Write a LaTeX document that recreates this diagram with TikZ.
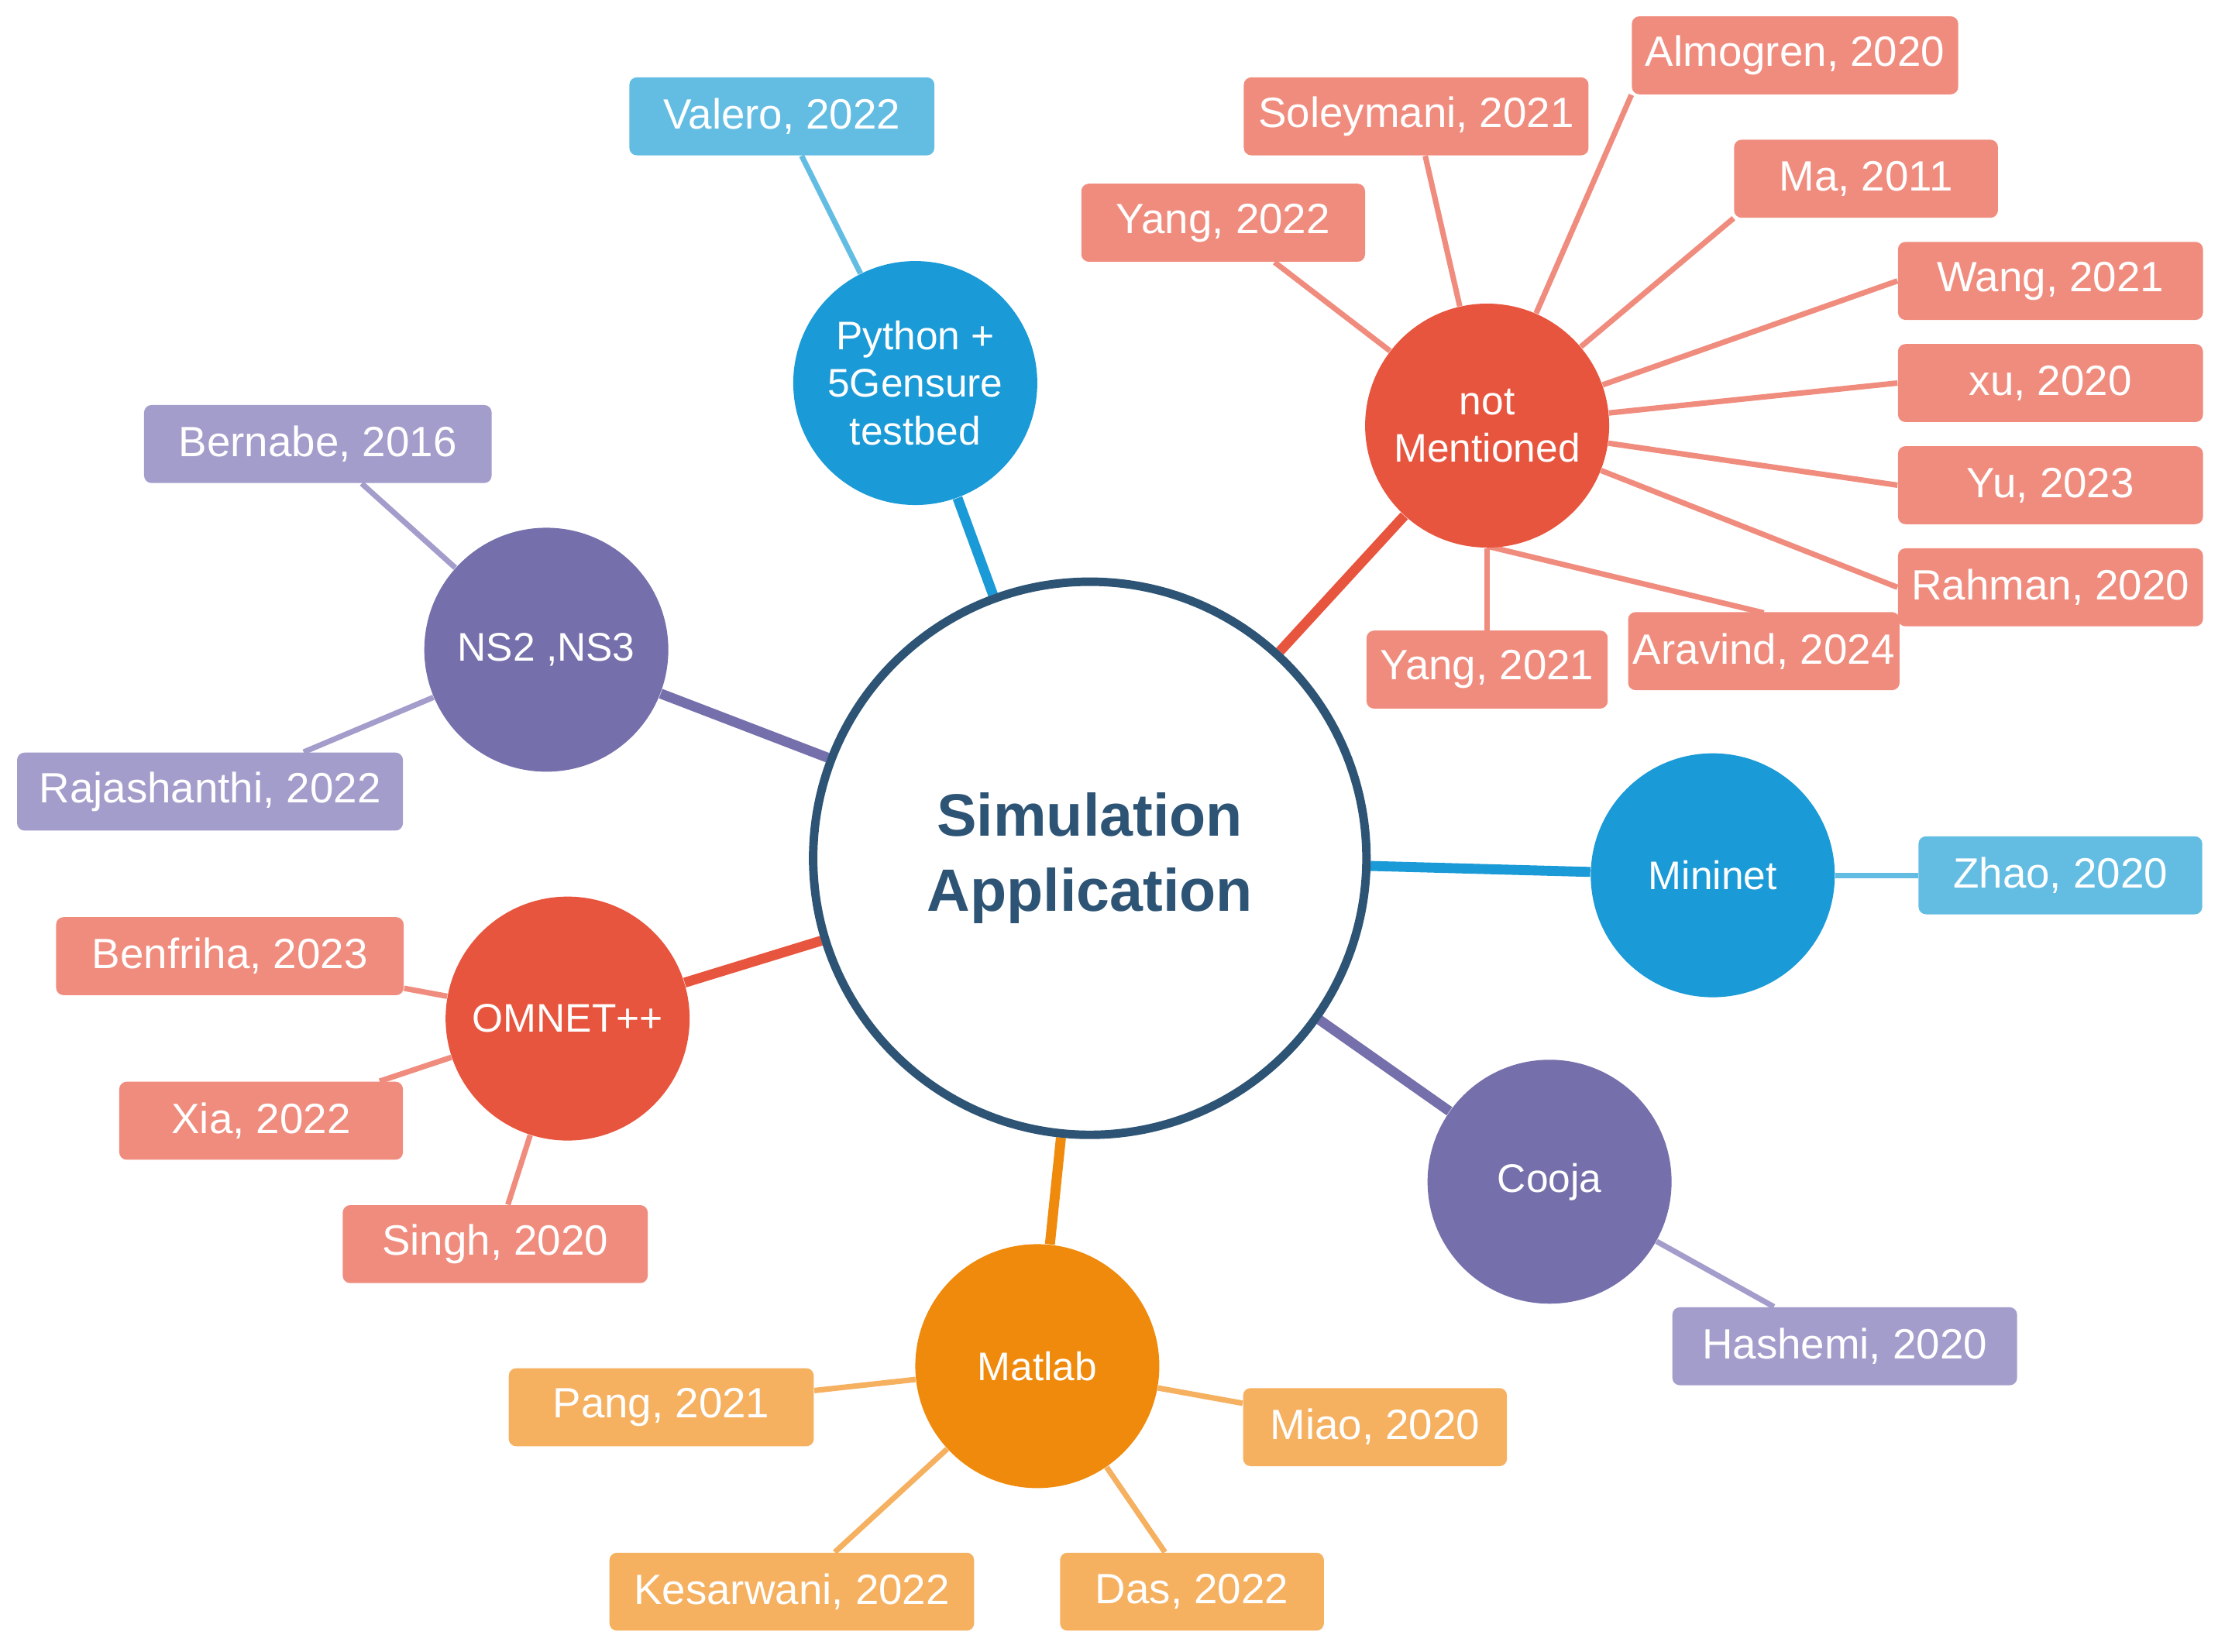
\documentclass[tikz,border=0pt]{standalone}
\usepackage{fontspec}
\setmainfont{Liberation Sans}
\usetikzlibrary{backgrounds}
\definecolor{navy}{HTML}{2E5475}
\definecolor{cblue}{HTML}{1A9AD6}
\definecolor{lblue}{HTML}{63BDE3}
\definecolor{cred}{HTML}{E8553E}
\definecolor{lred}{HTML}{F08C7E}
\definecolor{cpur}{HTML}{7570AB}
\definecolor{lpur}{HTML}{A39DCB}
\definecolor{cora}{HTML}{EF8A0C}
\definecolor{lora}{HTML}{F5B060}
\tikzset{
 hub/.style={circle,fill=#1,text=white,minimum size=3.44cm,inner sep=0pt,align=center,font=\fontsize{16}{19}\selectfont},
 leaf/.style={rounded corners=3pt,fill=#1,text=white,minimum height=1.1cm,inner sep=2pt,font=\fontsize{17}{20}\selectfont},
 hl/.style={line width=4pt,draw=#1},
 ll/.style={line width=2.2pt,draw=#1},
}
\begin{document}
\begin{tikzpicture}[x=0.02cm,y=-0.02cm]
\useasboundingbox (0,0) rectangle (1568,1164);
\node[circle,draw=navy,line width=3.4pt,fill=white,minimum size=7.8cm,align=center,text=navy,font=\fontsize{24}{30}\selectfont\bfseries] (C) at (768,605) {Simulation\\Application};
\node[hub=cblue] (py) at (645,270) {Python +\\5Gensure\\testbed};
\node[hub=cred] (nm) at (1048,300) {not\\Mentioned};
\node[hub=cpur] (ns) at (385,458) {NS2 ,NS3};
\node[hub=cblue] (mn) at (1207,617) {Mininet};
\node[hub=cred] (om) at (400,718) {OMNET++};
\node[hub=cpur] (co) at (1092,833) {Cooja};
\node[hub=cora] (ma) at (731,963) {Matlab};
% leaves
\node[leaf=lblue,minimum width=4.3cm] (va) at (551,82) {Valero, 2022};
\node[leaf=lred,minimum width=4.6cm] (al) at (1265,39) {Almogren, 2020};
\node[leaf=lred,minimum width=4.86cm] (so) at (998,82) {Soleymani, 2021};
\node[leaf=lred,minimum width=3.72cm] (mm) at (1315,126) {Ma, 2011};
\node[leaf=lred,minimum width=4.0cm] (y22) at (862,157) {Yang, 2022};
\node[leaf=lred,minimum width=4.3cm] (wa) at (1445,198) {Wang, 2021};
\node[leaf=lred,minimum width=4.3cm] (xu) at (1445,270) {xu, 2020};
\node[leaf=lred,minimum width=4.3cm] (yu) at (1445,342) {Yu, 2023};
\node[leaf=lred,minimum width=4.3cm] (ra) at (1445,414) {Rahman, 2020};
\node[leaf=lred,minimum width=3.74cm] (ar) at (1243,459) {Aravind, 2024};
\node[leaf=lred,minimum width=3.4cm] (y21) at (1048,472) {Yang, 2021};
\node[leaf=lpur,minimum width=4.9cm] (be) at (224,313) {Bernabe, 2016};
\node[leaf=lpur,minimum width=5.44cm] (rj) at (148,558) {Rajashanthi, 2022};
\node[leaf=lblue,minimum width=4.0cm] (zh) at (1452,617) {Zhao, 2020};
\node[leaf=lred,minimum width=4.9cm] (bf) at (162,674) {Benfriha, 2023};
\node[leaf=lred,minimum width=4.0cm] (xi) at (184,790) {Xia, 2022};
\node[leaf=lred,minimum width=4.3cm] (si) at (349,877) {Singh, 2020};
\node[leaf=lpur,minimum width=4.86cm] (ha) at (1300,949) {Hashemi, 2020};
\node[leaf=lora,minimum width=4.3cm] (pa) at (466,992) {Pang, 2021};
\node[leaf=lora,minimum width=3.72cm] (mi) at (969,1006) {Miao, 2020};
\node[leaf=lora,minimum width=5.14cm] (ke) at (558,1122) {Kesarwani, 2022};
\node[leaf=lora,minimum width=3.72cm] (da) at (840,1122) {Das, 2022};
\coordinate (nmb) at (1048,385);
\coordinate (art) at (1243,432);
\begin{scope}[on background layer]
\draw[hl=cblue] (C) -- (py);
\draw[hl=cred] (C) -- (nm);
\draw[hl=cpur] (C) -- (ns);
\draw[hl=cblue] (C) -- (mn);
\draw[hl=cred] (C) -- (om);
\draw[hl=cpur] (C) -- (co);
\draw[hl=cora] (C) -- (ma);
\draw[ll=lblue] (py) -- (va);
\draw[ll=lred] (nm) -- (al.south west);
\draw[ll=lred] (nm) -- (so);
\draw[ll=lred] (nm) -- (mm.south west);
\draw[ll=lred] (nm) -- (y22);
\draw[ll=lred] (nm) -- (wa.west);
\draw[ll=lred] (nm) -- (xu.west);
\draw[ll=lred] (nm) -- (yu.west);
\draw[ll=lred] (nm) -- (ra.west);
\draw[ll=lred] (nmb) -- (art);
\draw[ll=lred] (nm) -- (y21);
\draw[ll=lpur] (ns) -- (be);
\draw[ll=lpur] (ns) -- (rj);
\draw[ll=lblue] (mn) -- (zh);
\draw[ll=lred] (om) -- (bf);
\draw[ll=lred] (om) -- (xi);
\draw[ll=lred] (om) -- (si);
\draw[ll=lpur] (co) -- (ha);
\draw[ll=lora] (ma) -- (pa);
\draw[ll=lora] (ma) -- (mi);
\draw[ll=lora] (ma) -- (ke);
\draw[ll=lora] (ma) -- (da);
\end{scope}
\end{tikzpicture}
\end{document}
